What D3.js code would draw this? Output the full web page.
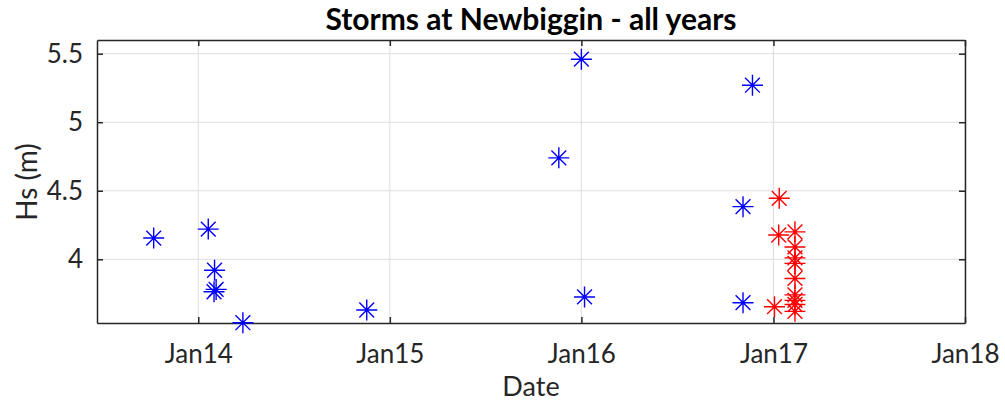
<!DOCTYPE html>
<html>
<head>
<meta charset="utf-8">
<script src="https://d3js.org/d3.v7.min.js"></script>
<style>
  body { margin: 0; background: #fff; }
  svg { font-family: Lato, "Open Sans", sans-serif; }
</style>
</head>
<body>
<svg width="1005" height="403"></svg>
<script>
// storm events (date, significant wave height in m)
var blueDates = ["2013-10-08", "2014-01-20", "2014-02-01", "2014-01-31", "2014-02-04",
                 "2014-03-27", "2014-11-18", "2015-11-19", "2016-01-01", "2016-01-07",
                 "2016-11-22", "2016-11-04", "2016-11-04"];
var blueHs = [4.155, 4.22, 3.92, 3.763, 3.78, 3.537, 3.63, 4.74, 5.46, 3.725, 5.27, 4.384, 3.683];

var redDates = ["2017-01-12", "2017-01-03", "2017-01-11", "2017-02-11", "2017-02-11",
                "2017-02-11", "2017-02-11", "2017-02-11", "2017-02-11", "2017-02-11",
                "2017-02-11", "2017-02-11"];
var redHs = [4.445, 3.654, 4.177, 4.20, 4.09, 4.01, 3.97, 3.86, 3.74, 3.70, 3.67, 3.62];

var xTicks = ["2014-01-01", "2015-01-01", "2016-01-01", "2017-01-01", "2018-01-01"];
var yTicks = [4, 4.5, 5, 5.5];
var xDomain = ["2013-06-22", "2018-01-01"];
var yDomain = [3.535, 5.6];

var parse = d3.timeParse("%Y-%m-%d");
var svg = d3.select("svg");
var mLeft = 97, mRight = 965, mTop = 40, mBottom = 323;

var x = d3.scaleTime().domain(xDomain.map(parse)).range([mLeft, mRight]);
var y = d3.scaleLinear().domain(yDomain).range([mBottom, mTop]);

var axisCol = "#262626";

// grid
svg.append("g").selectAll("line").data(xTicks).enter().append("line")
   .attr("x1", function(d) { return x(parse(d)); })
   .attr("x2", function(d) { return x(parse(d)); })
   .attr("y1", mTop).attr("y2", mBottom)
   .attr("stroke", "#dedede").attr("stroke-width", 1);
svg.append("g").selectAll("line").data(yTicks).enter().append("line")
   .attr("x1", mLeft).attr("x2", mRight)
   .attr("y1", function(d) { return y(d); })
   .attr("y2", function(d) { return y(d); })
   .attr("stroke", "#dedede").attr("stroke-width", 1);

// axes
var xAxis = d3.axisBottom(x).tickValues(xTicks.map(parse))
              .tickFormat(d3.timeFormat("Jan%y")).tickSizeInner(-6).tickSizeOuter(0).tickPadding(22);
var yAxis = d3.axisLeft(y).tickValues(yTicks)
              .tickFormat(d3.format("")).tickSizeInner(-6).tickSizeOuter(0).tickPadding(14);

var gx = svg.append("g").attr("transform", "translate(0," + mBottom + ")").call(xAxis);
var gy = svg.append("g").attr("transform", "translate(" + mLeft + ",0)").call(yAxis);
var gxTop = svg.append("g").attr("transform", "translate(0," + mTop + ")")
               .call(d3.axisTop(x).tickValues(xTicks.map(parse)).tickFormat("").tickSizeInner(-6).tickSizeOuter(0));
var gyRight = svg.append("g").attr("transform", "translate(" + mRight + ",0)")
               .call(d3.axisRight(y).tickValues(yTicks).tickFormat("").tickSizeInner(-6).tickSizeOuter(0));

[gx, gy, gxTop, gyRight].forEach(function(g) {
  g.select(".domain").attr("stroke", axisCol).attr("stroke-width", 1.5);
  g.selectAll(".tick line").attr("stroke", axisCol).attr("stroke-width", 1.5);
  g.selectAll("text").attr("fill", axisCol).attr("font-size", "26px").attr("font-family", "Lato");
});

// markers: MATLAB-style asterisk
function star(g, dates, vals, col) {
  var r = 10.5, rd = 7.4;
  var pts = g.selectAll("g.pt").data(d3.zip(dates, vals)).enter().append("g")
             .attr("class", "pt")
             .attr("transform", function(d) { return "translate(" + x(parse(d[0])) + "," + y(d[1]) + ")"; });
  pts.append("path")
     .attr("d", "M" + (-r) + ",0H" + r + "M0," + (-r) + "V" + r +
                "M" + (-rd) + "," + (-rd) + "L" + rd + "," + rd +
                "M" + (-rd) + "," + rd + "L" + rd + "," + (-rd))
     .attr("stroke", col).attr("stroke-width", 1.4).attr("fill", "none");
}
star(svg.append("g"), blueDates, blueHs, "#0000ff");
star(svg.append("g"), redDates, redHs, "#ff0000");

// labels
svg.append("text").attr("x", (mLeft + mRight) / 2).attr("y", 30)
   .attr("text-anchor", "middle").attr("font-size", "30px").attr("font-weight", "bold")
   .attr("fill", "#000").text("Storms at Newbiggin - all years");
svg.append("text").attr("x", (mLeft + mRight) / 2).attr("y", 396)
   .attr("text-anchor", "middle").attr("font-size", "27px")
   .attr("fill", axisCol).text("Date");
svg.append("text").attr("transform", "translate(37,182) rotate(-90)")
   .attr("text-anchor", "middle").attr("font-size", "28px")
   .attr("fill", axisCol).text("Hs (m)");
</script>
</body>
</html>
